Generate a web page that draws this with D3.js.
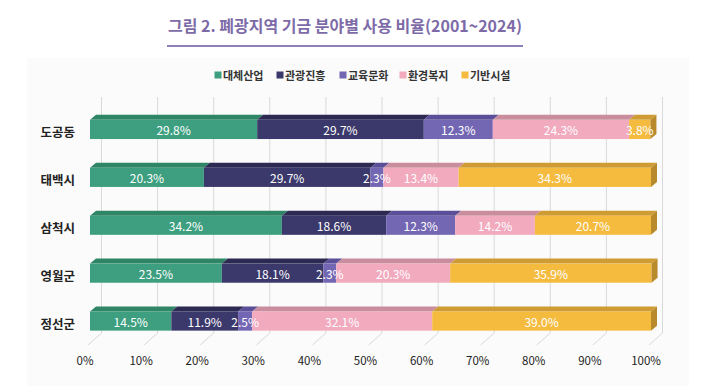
<!DOCTYPE html>
<html>
<head>
<meta charset="utf-8">
<script src="https://cdn.jsdelivr.net/npm/d3@7"></script>
<style>
  body { margin: 0; background: #fff; }
  svg { display: block; font-family: "Noto Sans CJK KR", "Noto Sans", sans-serif; }
</style>
</head>
<body>
<svg id="chart" width="701" height="388"></svg>
<script>
// data
const categories = ["도공동", "태백시", "삼척시", "영월군", "정선군"];
const seriesNames = ["대체산업", "관광진흥", "교육문화", "환경복지", "기반시설"];
const daeche = [29.8, 20.3, 34.2, 23.5, 14.5];
const gwangwang = [29.7, 29.7, 18.6, 18.1, 11.9];
const gyoyuk = [12.3, 2.3, 12.3, 2.3, 2.5];
const hwangyeong = [24.3, 13.4, 14.2, 20.3, 32.1];
const giban = [3.8, 34.3, 20.7, 35.9, 39.0];
const xTicks = [0, 10, 20, 30, 40, 50, 60, 70, 80, 90, 100];

const seriesValues = [daeche, gwangwang, gyoyuk, hwangyeong, giban];
const front = ["#3d9f80", "#3b386b", "#7366b3", "#f2aabf", "#f4bb3f"];
const topC = ["#2f8667", "#2c2952", "#5a4f98", "#c98d9d", "#cf9c33"];
const sideC = ["#2a7a5e", "#26234a", "#4f4588", "#b37d8c", "#b98a2c"];

const svg = d3.select("#chart");

// faint panel
svg.append("rect").attr("x", 27).attr("y", 58).attr("width", 662).attr("height", 328).attr("fill", "#fbfbfb");

// title
const title = svg.append("text")
    .attr("x", 345).attr("y", 25)
    .attr("text-anchor", "middle").attr("dominant-baseline", "central")
    .attr("fill", "#7d6ba8").style("font-weight", "700").style("font-size", "17px")
    .text("그림 2. 폐광지역 기금 분야별 사용 비율(2001~2024)");
const tw = title.node().getComputedTextLength();
title.style("font-size", (17 * 354 / tw).toFixed(2) + "px");
svg.append("line").attr("x1", 167).attr("x2", 523).attr("y1", 46).attr("y2", 46)
    .attr("stroke", "#8f7fb8").attr("stroke-width", 2);

// legend
const legendX = [218, 280, 343, 403, 465];
const lg = svg.append("g");
seriesNames.forEach((s, i) => {
    lg.append("rect").attr("x", legendX[i] - 3.5).attr("y", 71.5).attr("width", 7).attr("height", 7).attr("fill", front[i]);
    lg.append("text").attr("x", legendX[i] + 5).attr("y", 75)
        .attr("dominant-baseline", "central").style("font-size", "11px").style("font-weight", "700")
        .attr("fill", "#333").text(s);
});

// scales
const x = d3.scaleLinear().domain([0, 100]).range([90, 651]);
const y = d3.scaleBand().domain(categories).range([105.5, 345]).paddingInner(0.6).paddingOuter(0.3);

const backDx = 11.5, backDy = 12, floorY = 345;
const dx = 6, dy = 5;

// gridlines (back wall) and floor lines
const grid = svg.append("g").attr("stroke", "#d9d9d9").attr("stroke-width", 1);
xTicks.forEach(t => {
    const xb = x(t) + backDx;
    grid.append("line").attr("x1", xb).attr("x2", xb).attr("y1", 97).attr("y2", floorY - backDy);
    grid.append("line").attr("x1", x(t) - 2).attr("x2", xb).attr("y1", floorY).attr("y2", floorY - backDy);
});

// tick labels
svg.append("g").selectAll("text").data(xTicks).join("text")
    .attr("x", d => x(d) - 5).attr("y", 360)
    .attr("text-anchor", "middle").attr("dominant-baseline", "central")
    .style("font-size", "11.5px").attr("fill", "#222")
    .text(d => d + "%");

// category labels
svg.append("g").selectAll("text").data(categories).join("text")
    .attr("x", 75).attr("y", d => y(d) + y.bandwidth() / 2 + 2)
    .attr("text-anchor", "end").attr("dominant-baseline", "central")
    .style("font-size", "12.5px").style("font-weight", "700").attr("fill", "#222")
    .text(d => d);

// bars
const bars = svg.append("g");
categories.forEach((c, ci) => {
    const y0 = y(c), y1 = y(c) + y.bandwidth();
    let acc = 0;
    const segs = seriesValues.map((arr, si) => {
        const s = { si, v: arr[ci], a: acc, b: acc + arr[ci] };
        acc += arr[ci];
        return s;
    });
    segs.forEach(s => {
        const x0 = x(s.a), x1 = x(s.b);
        bars.append("polygon")
            .attr("points", [[x0, y0], [x1, y0], [x1 + dx, y0 - dy], [x0 + dx, y0 - dy]].join(" "))
            .attr("fill", topC[s.si]);
        bars.append("rect").attr("x", x0).attr("y", y0).attr("width", x1 - x0).attr("height", y1 - y0)
            .attr("fill", front[s.si]);
    });
    const last = segs[segs.length - 1];
    const xe = x(last.b);
    bars.append("polygon")
        .attr("points", [[xe, y0], [xe + dx, y0 - dy], [xe + dx, y1 - dy], [xe, y1]].join(" "))
        .attr("fill", sideC[last.si]);
    segs.forEach(s => {
        bars.append("text")
            .attr("x", (x(s.a) + x(s.b)) / 2).attr("y", (y0 + y1) / 2)
            .attr("text-anchor", "middle").attr("dominant-baseline", "central")
            .style("font-size", "12px").attr("fill", "#fff")
            .text(s.v.toFixed(1) + "%");
    });
});
</script>
</body>
</html>
